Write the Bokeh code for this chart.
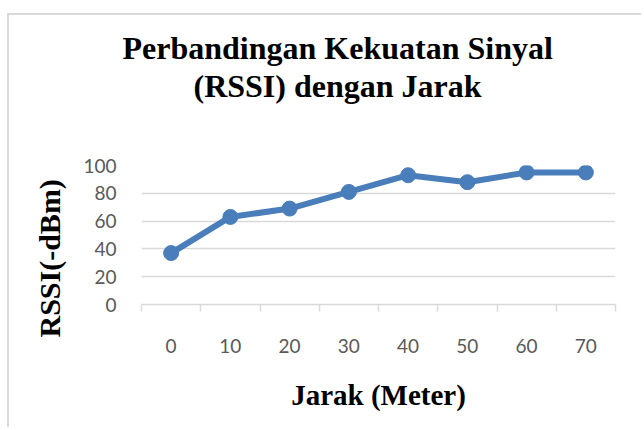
from bokeh.plotting import figure
from bokeh.models import ColumnDataSource, Range1d, FixedTicker, LinearAxis, Grid, Title
from bokeh.embed import file_html
from bokeh.resources import INLINE

# ---- data ----
jarak = [0, 10, 20, 30, 40, 50, 60, 70]
rssi = [37, 63, 69, 81, 93, 88, 95, 95]
y_ticks = [0, 20, 40, 60, 80, 100]
title_lines = ["Perbandingan Kekuatan Sinyal", "(RSSI) dengan Jarak"]
x_title = "Jarak (Meter)"
y_title = "RSSI(-dBm)"

LINE = "#4A7EBB"
GRID = "#D9D9D9"
TICKTXT = "#595959"
SERIF = "Liberation Serif"
SANS = "Lato"

step = jarak[1] - jarak[0]
bounds = [d - step / 2 for d in jarak] + [jarak[-1] + step / 2]

src = ColumnDataSource(data=dict(x=jarak, y=rssi))

W, H = 634, 414
p = figure(width=W, height=H, output_backend="svg", toolbar_location=None,
           x_range=Range1d(bounds[0], bounds[-1]), y_range=Range1d(0, 100),
           x_axis_type=None, y_axis_type=None,
           min_border_left=132, min_border_right=28,
           min_border_top=150, min_border_bottom=125)
p.styles = {"border-left": "2px solid #d9d9d9", "border-top": "2px solid #d9d9d9",
            "margin-left": "7px", "margin-top": "13px"}
p.outline_line_color = None
p.background_fill_color = "white"
p.border_fill_color = "white"

# y axis (labels only)
yax = LinearAxis(ticker=FixedTicker(ticks=y_ticks, minor_ticks=[]))
yax.axis_line_color = None
yax.major_tick_line_color = None
yax.minor_tick_line_color = None
yax.major_tick_out = 0
yax.major_tick_in = 0
yax.minor_tick_out = 0
yax.major_label_text_font = SANS
yax.major_label_text_font_size = "19px"
yax.major_label_text_color = TICKTXT
yax.major_label_standoff = 25
p.add_layout(yax, "left")

# x axis: labels at category centres, tick marks at boundaries
xax = LinearAxis(ticker=FixedTicker(ticks=jarak, minor_ticks=bounds))
xax.axis_line_color = GRID
xax.axis_line_width = 1.5
xax.major_tick_line_color = None
xax.minor_tick_line_color = GRID
xax.minor_tick_line_width = 1.5
xax.minor_tick_out = 7
xax.minor_tick_in = 0
xax.major_label_text_font = SANS
xax.major_label_text_font_size = "19px"
xax.major_label_text_color = TICKTXT
xax.major_label_standoff = 27
xax.axis_label = x_title
xax.axis_label_text_font = SERIF
xax.axis_label_text_font_style = "bold"
xax.axis_label_text_font_size = "29px"
xax.axis_label_text_color = "black"
xax.axis_label_standoff = 23
p.add_layout(xax, "below")

p.add_layout(Grid(dimension=1, ticker=FixedTicker(ticks=y_ticks[1:]),
                  grid_line_color=GRID, grid_line_width=1.5))

p.line("x", "y", source=src, line_color=LINE, line_width=6)
p.scatter("x", "y", source=src, size=15, fill_color=LINE, line_color=LINE)

# chart title: spacer + two lines, left-anchored with pixel offsets from the frame edge
spacer = Title(text=" ", text_font_size="1px", standoff=59)
t2 = Title(text=title_lines[1], align="left", offset=52, standoff=0,
           text_font=SERIF, text_font_style="bold", text_font_size="32px",
           text_color="black")
t1 = Title(text=title_lines[0], align="left", offset=-19, standoff=0,
           text_font=SERIF, text_font_style="bold", text_font_size="32px",
           text_color="black")
p.add_layout(spacer, "above")
p.add_layout(t2, "above")
p.add_layout(t1, "above")

# y-axis title
ty = Title(text=y_title, align="left", offset=-33, standoff=30,
           text_font=SERIF, text_font_style="bold", text_font_size="30px",
           text_color="black")
p.add_layout(ty, "left")

open("out.html", "w").write(file_html(p, INLINE))
